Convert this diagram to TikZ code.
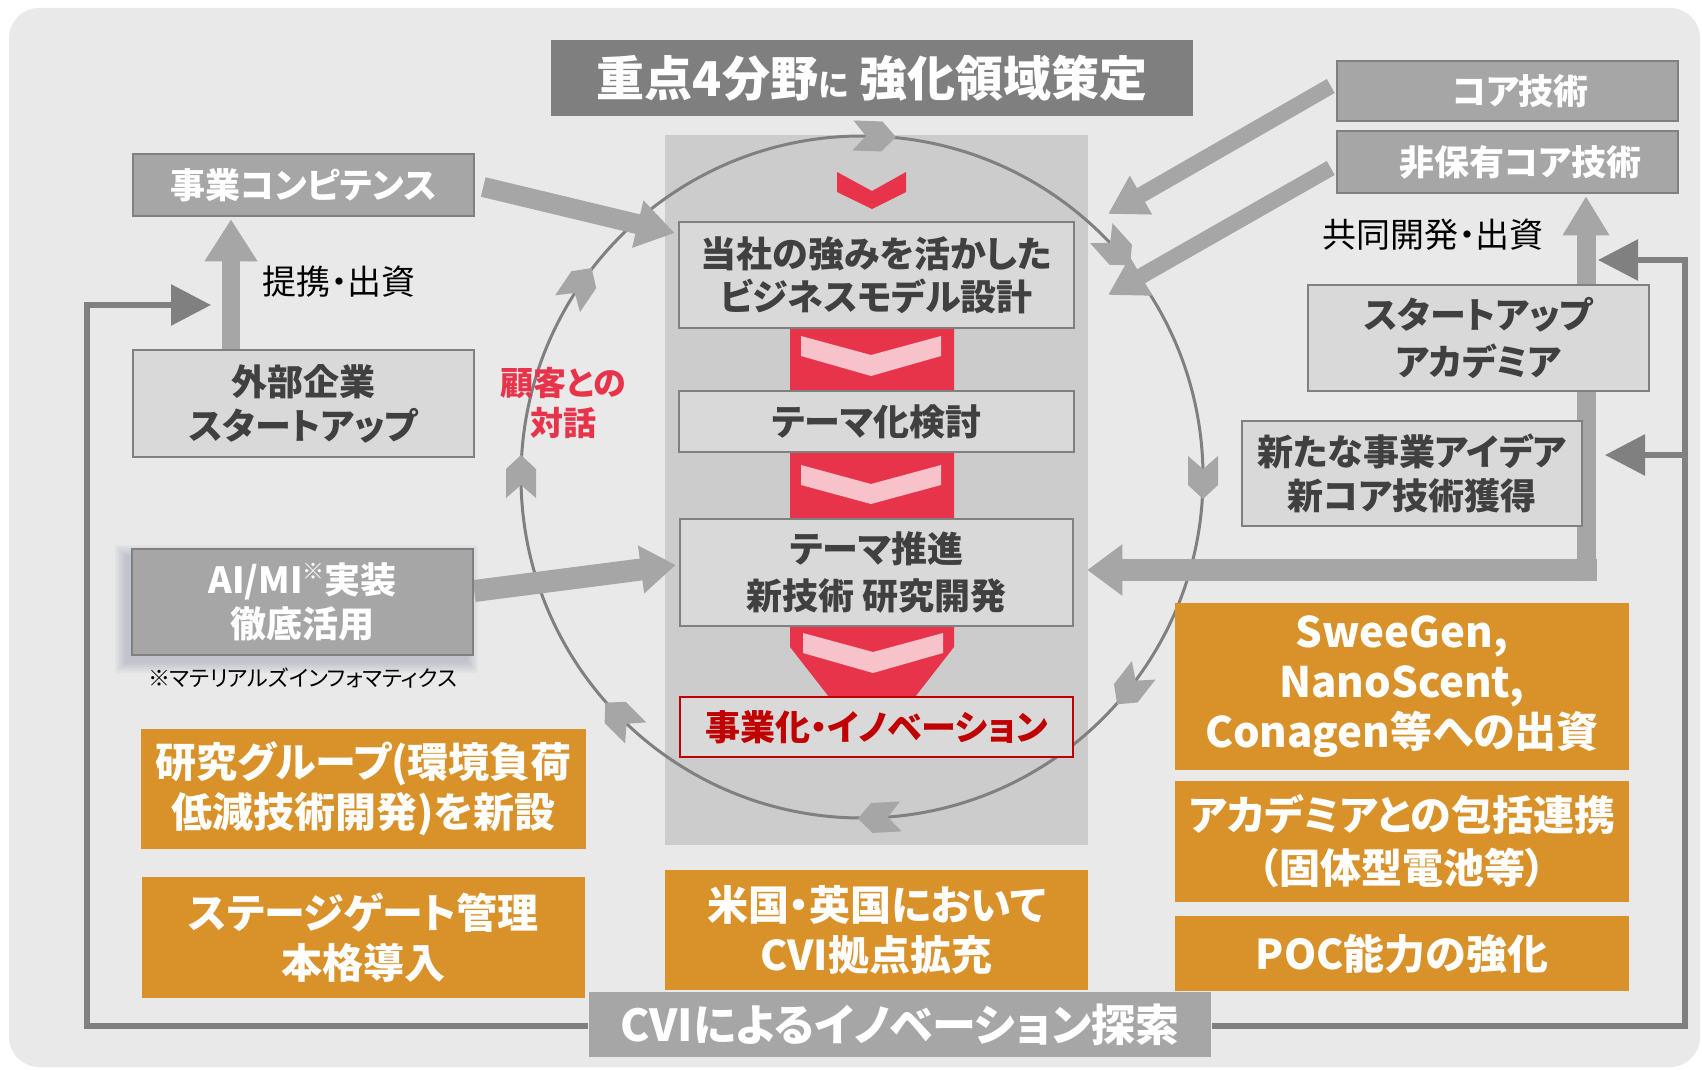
\documentclass[tikz,border=0pt]{standalone}
\usepackage{fontspec}
\setmainfont{Noto Sans CJK JP}[RawFeature=+palt]
\usetikzlibrary{arrows.meta,calc}
\pgfdeclarelayer{back}
\pgfdeclarelayer{mid}
\pgfsetlayers{back,mid,main}
\definecolor{bgc}{HTML}{E9E9E9}
\definecolor{panelc}{HTML}{CCCCCC}
\definecolor{darkc}{HTML}{7F7F7F}
\definecolor{midc}{HTML}{A6A6A6}
\definecolor{lightc}{HTML}{D9D9D9}
\definecolor{txtc}{HTML}{404040}
\definecolor{redc}{HTML}{E8344B}
\definecolor{pinkc}{HTML}{F8C2CA}
\definecolor{dredc}{HTML}{C00000}
\definecolor{orc}{HTML}{D9912A}
\definecolor{linec}{HTML}{808080}
\definecolor{shadc}{HTML}{6F7890}
\newcommand\fsz[2]{\fontsize{#1}{#2}\selectfont}
\begin{document}
\begin{tikzpicture}[x=1pt,y=-1pt,
  box/.style={line width=2.5pt, inner sep=0pt, align=center},
  darkbox/.style={box, draw=linec, fill=midc, text=white, font=\bfseries\fsz{35}{42}},
  lightbox/.style={box, draw=linec, fill=lightc, text=txtc, font=\bfseries\fsz{36}{45}},
  orbox/.style={box, fill=orc, text=white, font=\bfseries\fsz{41}{50}},
  bigarrow/.style={draw=midc, line cap=butt},
  loopline/.style={draw=linec, line width=6pt, -{Triangle[length=40pt,width=40pt]}},
]
\useasboundingbox (0,0) rectangle (1702,1070);

% ---------- nodes ----------
\node[box, fill=darkc, text=white, font=\bfseries\fsz{48}{48}, minimum width=642pt, minimum height=76pt] (title) at (872,78) {重点4分野{\fsz{31}{31}に} 強化領域策定};

\node[darkbox, minimum width=341pt, minimum height=62pt] (jc) at (303.5,185) {事業コンピテンス};
\node[lightbox, minimum width=341pt, minimum height=107pt, font=\bfseries\fsz{36}{44}] (gaibu) at (303.5,403.5) {外部企業\\スタートアップ};
\node[darkbox, minimum width=341pt, minimum height=106pt, font=\bfseries\fsz{36}{44}] (ai) at (302.5,602) {AI/MI\raisebox{0.38em}{\fsz{22}{22}※}実装\\徹底活用};
\node[font=\fsz{22}{22}] (note) at (302.5,678) {※マテリアルズインフォマティクス};
\node[font=\fsz{34}{34}] (teikei) at (339,282) {提携・出資};
\node[font=\bfseries\fsz{33}{40}, text=redc, align=center] (kokyaku) at (563,403) {顧客との\\対話};
\node[orbox, minimum width=445pt, minimum height=120pt] (ken) at (363.5,789) {研究グループ(環境負荷\\低減技術開発)を新設};
\node[orbox, minimum width=443pt, minimum height=121pt] (stage) at (363.5,937.5) {ステージゲート管理\\本格導入};

\node[lightbox, minimum width=395pt, minimum height=106pt, font=\bfseries\fsz{36}{43}] (b1) at (876.5,275) {当社の強みを活かした\\ビジネスモデル設計};
\node[lightbox, minimum width=395pt, minimum height=61pt] (b2) at (876.5,421.5) {テーマ化検討};
\node[lightbox, minimum width=393pt, minimum height=107pt, font=\bfseries\fsz{36}{47}] (b3) at (876.5,572.5) {テーマ推進\\新技術 研究開発};
\node[box, draw=dredc, fill=lightc, text=dredc, font=\bfseries\fsz{35}{35}, minimum width=393pt, minimum height=60pt] (b4) at (876.5,727) {事業化・イノベーション};
\node[orbox, minimum width=423pt, minimum height=120pt] (usuk) at (876.5,930) {米国・英国において\\CVI拠点拡充};
\node[box, fill=midc, text=white, font=\bfseries\fsz{44}{44}, minimum width=622pt, minimum height=65pt] (cvi) at (900,1024.5) {CVIによるイノベーション探索};

\node[darkbox, minimum width=341pt, minimum height=60pt] (core) at (1507.5,91) {\hspace*{26pt}コア技術};
\node[darkbox, minimum width=341pt, minimum height=62pt] (hiho) at (1507.5,162) {\hspace*{26pt}非保有コア技術};
\node[font=\fsz{34}{34}] (kyodo) at (1433,235) {共同開発・出資};
\node[lightbox, minimum width=341pt, minimum height=106pt, font=\bfseries\fsz{36}{47}] (sa) at (1478.5,338) {スタートアップ\\アカデミア};
\node[lightbox, minimum width=340pt, minimum height=105pt, font=\bfseries\fsz{36}{44}] (newidea) at (1412,473.5) {新たな事業アイデア\\新コア技術獲得};
\node[orbox, minimum width=454pt, minimum height=167pt, font=\bfseries\fsz{42}{50}] (swee) at (1402,686.5) {SweeGen,\\NanoScent,\\Conagen等への出資};
\node[orbox, minimum width=454pt, minimum height=121pt, font=\bfseries\fsz{41}{53}] (acad) at (1402,841.5) {アカデミアとの包括連携\\（固体型電池等）};
\node[orbox, minimum width=454pt, minimum height=75pt] (poc) at (1402,953.5) {POC能力の強化};

% ---------- background layer ----------
\begin{pgfonlayer}{back}
\fill[white] (0,0) rectangle (1702,1070);
\fill[bgc, rounded corners=30pt] (9,8) rectangle (1700,1067);
\fill[panelc] (665,135) rectangle (1088,845);
\fill[redc] (790,300) -- (954,300) -- (954,647) -- (872,752) -- (790,647) -- cycle;
\fill[redc] (837,172)--(872,191)--(906,172)--(906,192)--(872,209)--(837,192)--cycle;
\fill[pinkc] (801,336)--(871,355)--(941,336)--(941,356)--(871,376)--(801,356)--cycle;
\fill[pinkc] (801,465)--(871,484)--(941,465)--(941,485)--(871,504)--(801,485)--cycle;
\fill[pinkc] (803,633)--(873,652)--(943,633)--(943,653)--(873,673)--(803,653)--cycle;
\foreach \i in {0,2,...,10}
  \fill[shadc, opacity=0.06] ($(ai.north west)+(-6-\i,7-\i)$) rectangle ($(ai.south east)+(-6+\i,7+\i)$);
\end{pgfonlayer}

% ---------- middle layer ----------
\begin{pgfonlayer}{mid}
\coordinate (C) at (862,477);
\draw[linec, line width=3pt] (C) circle[radius=341];
\foreach \a in {-88,-42,0,38,87,135,180,214}
  \fill[midc, shift={($(C)+(\a:341)$)}, rotate=-(\a+90)] (-21,-15)--(8,-15)--(22,0)--(8,15)--(-21,15)--(-8,0)--cycle;

% thick gray arrows
\draw[bigarrow, line width=20pt, -{Triangle[length=38pt,width=46pt]}] ($(jc.east)+(8,2)$) -- ($(b1.west)+(-3,-42)$);
\draw[bigarrow, line width=18pt, -{Triangle[length=42pt,width=50pt]}] ($(gaibu.north)+(-72.5,0)$) -- ($(jc.south)+(-72.5,2)$);
\draw[bigarrow, line width=22pt, -{Triangle[length=35pt,width=46pt]}] ($(ai.east)+(0,-11)$) -- ($(b3.west)+(-3,-7.5)$);
\coordinate (T1) at (1108,214);
\coordinate (T2) at (1108,295);
\draw[bigarrow, line width=16pt, -{Triangle[length=38pt,width=42pt]}] ($(core.west)+(-5,-5)$) -- (T1);
\draw[bigarrow, line width=16pt, -{Triangle[length=38pt,width=42pt]}] ($(hiho.west)+(-5,6)$) -- (T2);
\coordinate (J) at (1586,581);
\coordinate (J2) at (1597,570);
\draw[bigarrow, line width=19pt, -{Triangle[length=39pt,width=44pt]}] (J) -- ($(hiho.south)+(78.5,2)$);
\draw[bigarrow, line width=22pt, -{Triangle[length=35pt,width=49pt]}] (J2) -- ($(b3.east)+(13,-2.5)$);

% loop lines
\coordinate (L1) at (87,1026);
\coordinate (L2) at (87,305);
\coordinate (LT) at (211,305);
\draw[loopline] (cvi.west |- L1) -- (L1) -- (L2) -- (LT);
\coordinate (R1) at (1685,1026);
\coordinate (R2) at (1685,260);
\coordinate (RT) at (1598,260);
\coordinate (R3) at (1685,455);
\coordinate (RT2) at (1605,455);
\draw[loopline] (cvi.east |- R1) -- (R1) -- (R2) -- (RT);
\draw[loopline] (R3) -- (RT2);
\end{pgfonlayer}
\end{tikzpicture}
\end{document}
